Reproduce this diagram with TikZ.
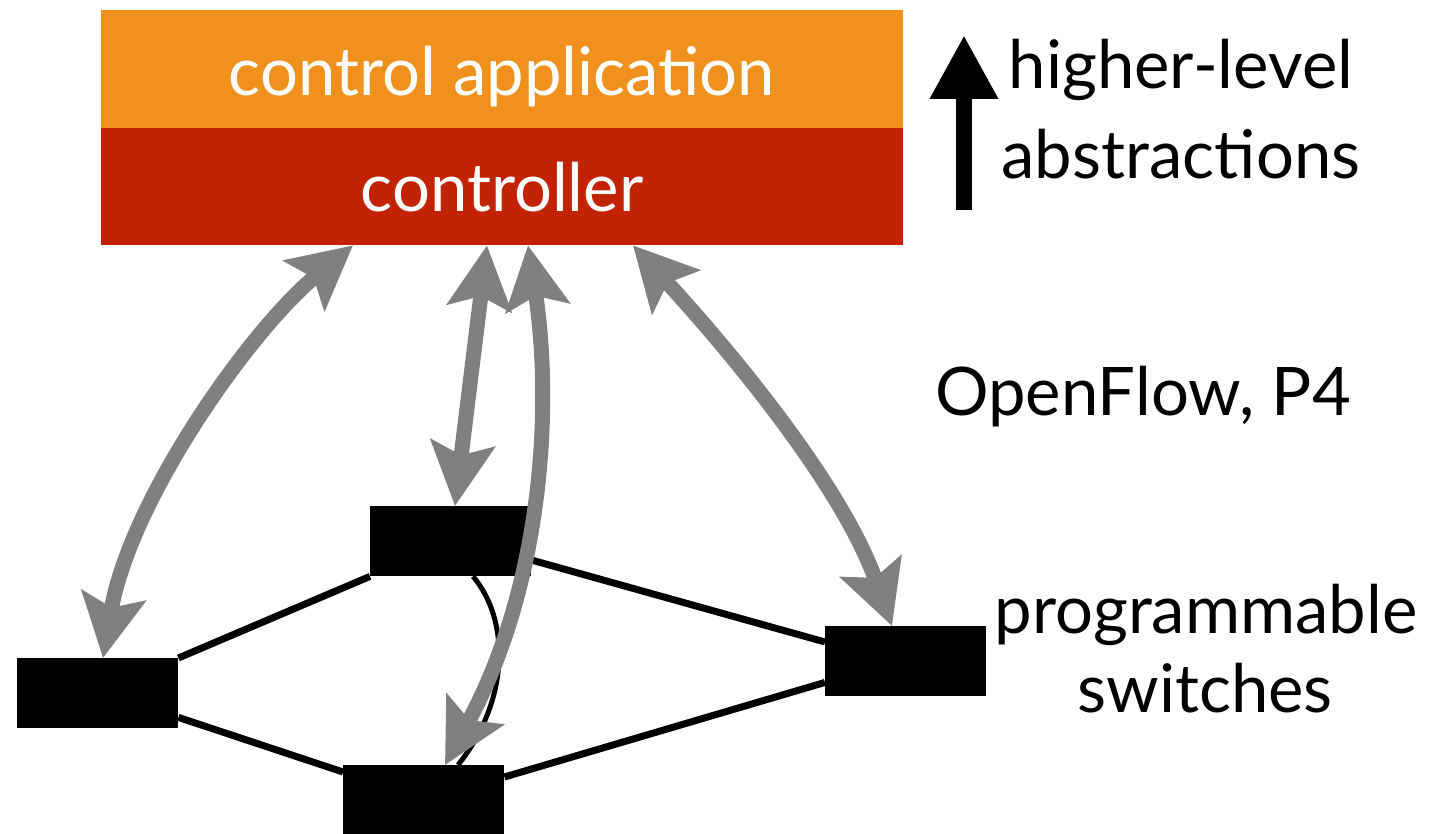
\documentclass[tikz,border=0pt]{standalone}
\usepackage{fontspec}
\setmainfont{Lato}
\usetikzlibrary{arrows.meta}
\definecolor{apporange}{RGB}{239,145,28}
\definecolor{ctrlred}{RGB}{195,35,5}
\definecolor{arrowgray}{RGB}{128,128,128}
\begin{document}
\begin{tikzpicture}[x=1pt,y=-1pt,
  bigtext/.style={font=\fontsize{67}{80}\selectfont, inner sep=0pt},
  layerbox/.style={draw=none, minimum width=802pt, inner sep=0pt, anchor=north west},
  swbox/.style={fill=black, draw=none, minimum width=161pt, minimum height=70pt, inner sep=0pt, anchor=north west},
  link/.style={line width=7pt},
  thinlink/.style={line width=5pt},
  ctl/.style={draw=arrowgray, line width=15pt,
    {Stealth[length=63pt,width=64pt,inset=12pt]}-{Stealth[length=63pt,width=64pt,inset=12pt]}},
  uparrow/.style={line width=16pt, -{Triangle[length=64pt,width=64pt]}},
]
\useasboundingbox (0,0) rectangle (1446,834);
\fill[white] (0,0) rectangle (1446,834);

% layers
\node[layerbox, fill=apporange, minimum height=118pt] (app) at (101,10) {};
\node[layerbox, fill=ctrlred, minimum height=117pt] (ctrl) at (101,128) {};
\node[bigtext, text=white, anchor=base] (apptxt) at (502,96) {control application};
\node[bigtext, text=white, anchor=base] (ctrltxt) at (502,212) {controller};

% switches
\node[swbox] (s1) at (17,658) {};
\node[swbox] (s2) at (370,506) {};
\node[swbox] (s3) at (343,765) {};
\node[swbox] (s4) at (825,626) {};

% links
\draw[link] (s1.north east) -- (s2.south west);
\draw[link] ([yshift=11pt]s1.south east) -- ([yshift=-7pt]s3.north west);
\draw[link] ([yshift=-54pt]s2.north east) -- ([yshift=-16pt]s4.north west);
\draw[link] ([yshift=-12pt]s3.north east) -- ([yshift=14pt]s4.south west);
\draw[thinlink] ([xshift=103pt]s2.south west) .. controls (510,620) and (510,700) .. ([xshift=115pt]s3.north west);

% switches drawn again over the link ends
\fill (s1.north west) rectangle (s1.south east);
\fill (s2.north west) rectangle (s2.south east);
\fill (s3.north west) rectangle (s3.south east);
\fill (s4.north west) rectangle (s4.south east);

% control channels
\draw[ctl] ([xshift=252pt]ctrl.south west) .. controls (250,330) and (130,500) .. ([xshift=86pt]s1.north west);
\draw[ctl] ([xshift=386pt]ctrl.south west) -- ([xshift=85pt]s2.north west);
\draw[ctl] ([xshift=427pt]ctrl.south west) .. controls (552,400) and (545,580) .. ([xshift=102pt]s3.north west);
\draw[ctl] ([xshift=532pt]ctrl.south west) .. controls (720,340) and (840,480) .. ([xshift=67pt]s4.north west);

% abstraction arrow
\coordinate (hlb) at (964,210);
\coordinate (hlt) at (964,35);
\draw[uparrow] (hlb) -- (hlt);

% labels
\node[bigtext, anchor=base] (hl1) at (1181,89) {higher-level};
\node[bigtext, anchor=base] (hl2) at (1181,179) {abstractions};
\node[bigtext, anchor=base] (ofp4) at (1143,415) {OpenFlow, P4};
\node[bigtext, anchor=base] (prog1) at (1206,633) {programmable};
\node[bigtext, anchor=base] (prog2) at (1205,712) {switches};
\end{tikzpicture}
\end{document}
